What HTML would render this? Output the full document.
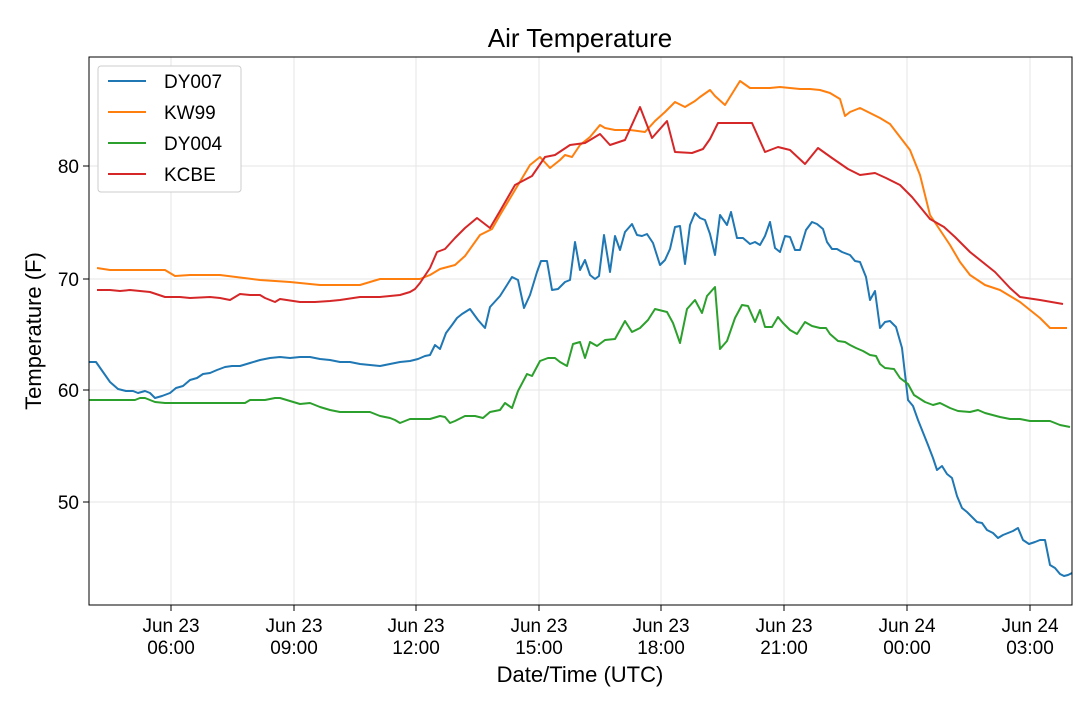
<!DOCTYPE html>
<html><head><meta charset="utf-8"><style>body{margin:0;background:#fff}svg{display:block;font-family:"Liberation Sans","DejaVu Sans",sans-serif}</style></head><body>
<svg width="1080" height="707" viewBox="0 0 1080 707">
<rect width="1080" height="707" fill="#fff"/>
<g stroke="#e6e6e6" stroke-width="1">
<line x1="171" y1="57" x2="171" y2="605"/><line x1="294" y1="57" x2="294" y2="605"/><line x1="416" y1="57" x2="416" y2="605"/><line x1="539" y1="57" x2="539" y2="605"/><line x1="661" y1="57" x2="661" y2="605"/><line x1="784" y1="57" x2="784" y2="605"/><line x1="907" y1="57" x2="907" y2="605"/><line x1="1030" y1="57" x2="1030" y2="605"/>
<line x1="89" y1="166" x2="1072" y2="166"/><line x1="89" y1="279" x2="1072" y2="279"/><line x1="89" y1="390" x2="1072" y2="390"/><line x1="89" y1="502" x2="1072" y2="502"/>
</g>
<g fill="none" stroke-width="2" stroke-linejoin="round">
<polyline stroke="#1f77b4" points="89,362 96,362 103,372 110,382 118,389 126,391 133,391 138,393 145,391 150,393 155,398 162,396 170,393 176,388 183,386 190,380 197,378 203,374 210,373 217,370 225,367 232,366 240,366 250,363 260,360 270,358 280,357 290,358 300,357 310,357 320,359 330,360 340,362 350,362 360,364 370,365 380,366 390,364 400,362 410,361 418,359 425,356 430,355 435,345 440,349 446,333 452,325 457,318 462,314 470,309 478,320 485,328 490,307 500,296 507,285 512,277 518,280 524,308 530,295 537,272 541,261 547,261 552,290 558,289 565,282 570,280 575,242 580,270 585,260 590,275 595,279 599,276 604,235 610,272 615,236 620,250 625,232 632,224 637,235 642,236 647,234 653,243 660,265 665,260 670,249 675,227 680,226 685,264 690,225 695,213 700,218 705,220 710,234 715,255 720,215 727,225 731,212 737,238 743,238 750,244 755,242 760,245 765,236 770,222 775,248 780,252 785,236 790,237 795,250 800,250 806,230 812,222 817,224 823,229 827,242 832,249 837,249 842,252 850,255 855,261 860,262 866,277 870,300 875,291 880,328 885,322 890,321 896,327 902,348 908,400 913,406 918,420 922,430 928,445 933,458 937,470 942,466 947,474 952,478 957,496 962,508 967,512 972,517 977,522 982,523 987,530 993,533 998,538 1003,535 1008,533 1013,531 1018,528 1023,540 1029,544 1035,542 1040,540 1045,540 1050,565 1055,568 1060,574 1064,576 1068,575 1072,573"/>
<polyline stroke="#ff7f0e" points="97,268 110,270 165,270 175,276 190,275 220,275 260,280 290,282 320,285 360,285 370,282 380,279 420,279 430,275 440,269 455,265 465,256 480,235 492,229 500,215 515,190 530,165 540,157 550,168 560,160 565,155 572,157 580,145 590,137 600,125 605,128 615,130 630,130 645,132 655,121 665,112 675,102 685,107 695,101 700,97 710,90 715,96 725,105 740,81 750,88 760,88 770,88 780,87 800,89 810,89 820,90 830,93 840,99 845,116 850,112 860,108 870,113 880,118 890,124 900,137 910,150 920,175 930,215 940,230 950,245 960,262 970,275 985,285 1000,290 1010,296 1020,302 1030,310 1040,318 1050,328 1060,328 1067,328"/>
<polyline stroke="#2ca02c" points="89,400 100,400 135,400 140,398 145,398 155,402 165,403 200,403 245,403 250,400 265,400 275,398 280,398 290,401 300,404 310,403 320,407 330,410 340,412 370,412 380,416 390,418 395,420 400,423 410,419 430,419 440,416 445,417 450,423 455,421 465,416 475,416 483,418 490,412 500,410 505,403 512,408 518,391 527,374 532,376 540,361 548,358 555,358 560,362 567,366 573,344 580,342 585,358 590,342 597,346 605,340 615,339 625,321 632,332 640,328 648,320 655,309 667,312 673,323 680,343 687,309 695,300 702,313 707,296 715,287 720,349 727,341 735,318 742,305 748,306 755,322 760,310 765,327 772,327 778,317 783,323 790,330 797,334 805,322 812,326 820,328 826,328 830,334 838,341 845,342 850,345 856,348 863,351 870,355 876,356 880,364 885,368 894,369 900,378 908,384 914,395 925,402 933,405 940,403 950,408 958,411 970,412 978,410 985,413 1000,417 1010,419 1020,419 1030,421 1050,421 1060,425 1070,427"/>
<polyline stroke="#d62728" points="97,290 110,290 120,291 130,290 150,292 165,297 180,297 190,298 210,297 220,298 230,300 240,294 250,295 260,295 265,298 270,300 275,302 280,299 300,302 315,302 330,301 340,300 360,297 380,297 390,296 400,295 410,292 415,289 420,283 430,268 437,252 445,249 455,238 465,228 477,218 490,228 500,211 515,185 532,176 545,157 555,155 570,145 585,143 600,134 610,145 625,140 640,107 652,138 667,121 675,152 692,153 703,149 710,139 718,123 730,123 752,123 765,152 778,147 790,150 805,164 818,148 832,158 848,169 860,175 875,173 886,178 900,185 912,197 930,219 944,227 955,237 970,252 995,272 1010,288 1020,297 1040,300 1063,304"/>
</g>
<rect x="89" y="57" width="983" height="548" fill="none" stroke="#000" stroke-width="1"/>
<g stroke="#000"><line x1="171" y1="605" x2="171" y2="611"/><line x1="294" y1="605" x2="294" y2="611"/><line x1="416" y1="605" x2="416" y2="611"/><line x1="539" y1="605" x2="539" y2="611"/><line x1="661" y1="605" x2="661" y2="611"/><line x1="784" y1="605" x2="784" y2="611"/><line x1="907" y1="605" x2="907" y2="611"/><line x1="1030" y1="605" x2="1030" y2="611"/>
<line x1="83" y1="166" x2="89" y2="166"/><line x1="83" y1="279" x2="89" y2="279"/><line x1="83" y1="390" x2="89" y2="390"/><line x1="83" y1="502" x2="89" y2="502"/></g>
<g font-size="19" fill="#000" text-anchor="end"><text x="79" y="173">80</text><text x="79" y="286">70</text><text x="79" y="397">60</text><text x="79" y="509">50</text></g>
<g font-size="19" fill="#000" text-anchor="middle">
<text x="171" y="632">Jun 23</text><text x="171" y="654">06:00</text>
<text x="294" y="632">Jun 23</text><text x="294" y="654">09:00</text>
<text x="416" y="632">Jun 23</text><text x="416" y="654">12:00</text>
<text x="539" y="632">Jun 23</text><text x="539" y="654">15:00</text>
<text x="661" y="632">Jun 23</text><text x="661" y="654">18:00</text>
<text x="784" y="632">Jun 23</text><text x="784" y="654">21:00</text>
<text x="907" y="632">Jun 24</text><text x="907" y="654">00:00</text>
<text x="1030" y="632">Jun 24</text><text x="1030" y="654">03:00</text>
</g>
<text x="580" y="682" font-size="22" text-anchor="middle">Date/Time (UTC)</text>
<text x="41" y="331" font-size="22" text-anchor="middle" transform="rotate(-90 41 331)">Temperature (F)</text>
<text x="580" y="47" font-size="26" text-anchor="middle">Air Temperature</text>
<rect x="98" y="66" width="143" height="126" rx="3" fill="#fff" stroke="#ccc"/>
<g stroke-width="2"><line x1="108" y1="81" x2="146" y2="81" stroke="#1f77b4"/><line x1="108" y1="112" x2="146" y2="112" stroke="#ff7f0e"/><line x1="108" y1="143" x2="146" y2="143" stroke="#2ca02c"/><line x1="108" y1="174" x2="146" y2="174" stroke="#d62728"/></g>
<g font-size="19"><text x="164" y="88">DY007</text><text x="164" y="119">KW99</text><text x="164" y="150">DY004</text><text x="164" y="181">KCBE</text></g>
</svg>
</body></html>
